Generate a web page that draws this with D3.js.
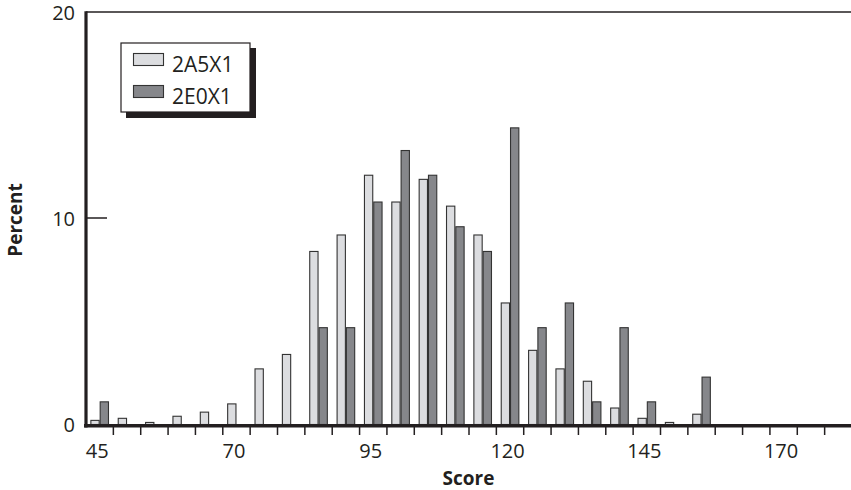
<!DOCTYPE html>
<html>
<head>
<meta charset="utf-8">
<script src="https://cdn.jsdelivr.net/npm/d3@7/dist/d3.min.js"></script>
<style>
  html, body { margin: 0; padding: 0; background: #ffffff; }
  svg { display: block; }
  text { font-family: "Open Sans", "Noto Sans", sans-serif; fill: #231f20; }
</style>
</head>
<body>
<svg id="chart" width="851" height="490"></svg>
<script>
// ---- data ----
const binCenters = [45, 50, 55, 60, 65, 70, 75, 80, 85, 90, 95, 100, 105, 110, 115, 120, 125, 130, 135, 140, 145, 150, 155];
const series = ["2A5X1", "2E0X1"];
const values2A5X1 = [0.2, 0.3, 0.1, 0.4, 0.6, 1.0, 2.7, 3.4, 8.4, 9.2, 12.1, 10.8, 11.9, 10.6, 9.2, 5.9, 3.6, 2.7, 2.1, 0.8, 0.3, 0.1, 0.5];
const values2E0X1 = [1.1, 0, 0, 0, 0, 0, 0, 0, 4.7, 4.7, 10.8, 13.3, 12.1, 9.6, 8.4, 14.4, 4.7, 5.9, 1.1, 4.7, 1.1, 0, 2.3];
const xTickLabels = [45, 70, 95, 120, 145, 170];
const yTickLabels = [0, 10, 20];
const xTitle = "Score";
const yTitle = "Percent";

// ---- layout ----
const ink = "#231f20";
const colors = { "2A5X1": "#dcdde0", "2E0X1": "#86878b" };
const mLeft = 86, mRight = 852, mTop = 12, mBottom = 424;
const binWidth = 5;

const svg = d3.select("#chart");
const x = d3.scaleLinear().domain([42.5, 182.5]).range([mLeft, mRight]);
const y = d3.scaleLinear().domain([0, 20]).range([mBottom, mTop]);
const sub = d3.scaleBand().domain(series).range([-1.7, 1.7]).paddingInner(0);

const rows = binCenters.map((c, i) => ({ c, vals: [values2A5X1[i], values2E0X1[i]] }));

// bars
const g = svg.append("g");
rows.forEach(r => {
  series.forEach((s, j) => {
    const v = r.vals[j];
    if (v <= 0) return;
    const x0 = x(r.c + sub(s));
    const x1 = x(r.c + sub(s) + sub.bandwidth());
    g.append("rect")
      .attr("x", x0 + 0.5)
      .attr("y", y(v) + 0.5)
      .attr("width", x1 - x0 - 1)
      .attr("height", y(0) - y(v))
      .attr("fill", colors[s])
      .attr("stroke", "#333333")
      .attr("stroke-width", 1.1);
  });
});

// top border
svg.append("line")
  .attr("x1", mLeft).attr("x2", 851).attr("y1", y(20)).attr("y2", y(20))
  .attr("stroke", ink).attr("stroke-width", 1.5);

// x axis: ticks at bin edges, labels at bin centers
const edgeTicks = d3.range(47.5, 182.5, binWidth);
const xAxisG = svg.append("g");
xAxisG.selectAll("line.tick").data(edgeTicks).join("line")
  .attr("x1", d => x(d)).attr("x2", d => x(d))
  .attr("y1", mBottom + 2).attr("y2", mBottom + 11)
  .attr("stroke", ink).attr("stroke-width", 1.5);
xAxisG.selectAll("text").data(xTickLabels).join("text")
  .attr("x", d => x(d) - 2.5).attr("y", 458)
  .attr("text-anchor", "middle")
  .attr("font-size", 20)
  .text(d => d);
svg.append("line")
  .attr("x1", mLeft - 2).attr("x2", 851).attr("y1", mBottom + 1.8).attr("y2", mBottom + 1.8)
  .attr("stroke", ink).attr("stroke-width", 3.6);

// y axis
svg.append("line")
  .attr("x1", mLeft).attr("x2", mLeft).attr("y1", mTop - 0.7).attr("y2", mBottom + 3.5)
  .attr("stroke", ink).attr("stroke-width", 3.2);
const yAxisG = svg.append("g");
yAxisG.selectAll("line").data(yTickLabels.filter(d => d > 0 && d < 20)).join("line")
  .attr("x1", mLeft).attr("x2", mLeft + 21)
  .attr("y1", d => y(d)).attr("y2", d => y(d))
  .attr("stroke", ink).attr("stroke-width", 1.5);
yAxisG.selectAll("text").data(yTickLabels).join("text")
  .attr("x", 75).attr("y", d => y(d) + 7.5)
  .attr("text-anchor", "end")
  .attr("font-size", 20)
  .text(d => d);

// axis titles
svg.append("text")
  .attr("x", (mLeft + 851) / 2).attr("y", 485)
  .attr("text-anchor", "middle")
  .attr("font-size", 19).attr("font-weight", "bold")
  .text(xTitle);
svg.append("text")
  .attr("transform", "translate(22,220) rotate(-90)")
  .attr("text-anchor", "middle")
  .attr("font-size", 19).attr("font-weight", "bold")
  .text(yTitle);

// legend
const lg = svg.append("g");
lg.append("rect").attr("x", 126).attr("y", 48).attr("width", 130).attr("height", 70).attr("fill", ink);
lg.append("rect").attr("x", 121).attr("y", 43).attr("width", 129).attr("height", 69)
  .attr("fill", "#ffffff").attr("stroke", ink).attr("stroke-width", 1.2);
series.forEach((s, i) => {
  const yy = 53 + i * 32;
  lg.append("rect").attr("x", 133.5).attr("y", yy + 0.5).attr("width", 30).attr("height", 12)
    .attr("fill", colors[s]).attr("stroke", "#333333").attr("stroke-width", 1.1);
  lg.append("text").attr("x", 172).attr("y", yy + 18.5).attr("font-size", 21).text(s);
});
</script>
</body>
</html>
